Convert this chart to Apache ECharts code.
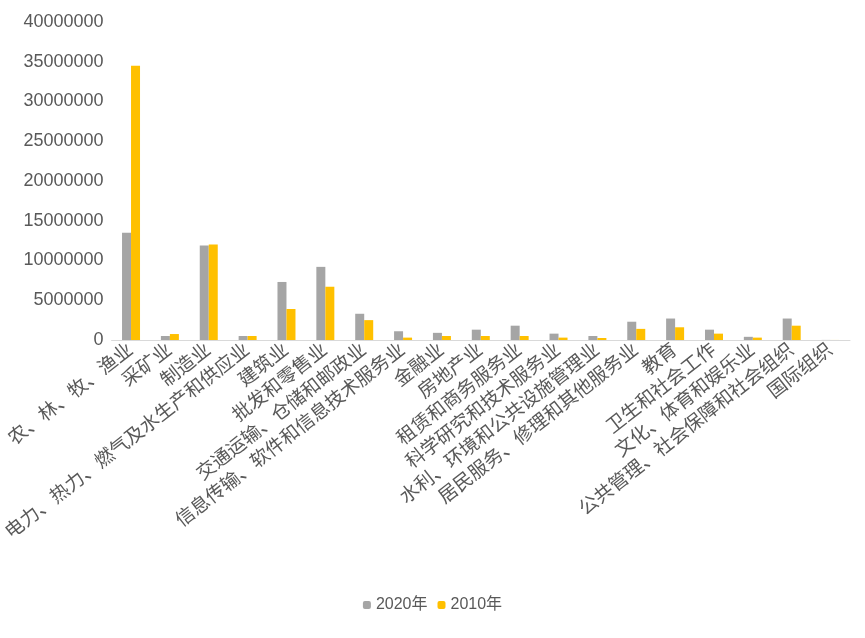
<!DOCTYPE html>
<html lang="zh">
<head>
<meta charset="UTF-8">
<title>行业人数</title>
<script src="https://cdn.jsdelivr.net/npm/echarts@6/dist/echarts.min.js"></script>
<style>body{margin:0}#main{width:865px;height:638px}</style>
</head>
<body>
<div id="main"></div>
<script>
    const categories = ['农、林、牧、渔业', '采矿业', '制造业', '电力、热力、燃气及水生产和供应业', '建筑业',
        '批发和零售业', '交通运输、仓储和邮政业', '信息传输、软件和信息技术服务业', '金融业', '房地产业',
        '租赁和商务服务业', '科学研究和技术服务业', '水利、环境和公共设施管理业', '居民服务、修理和其他服务业',
        '教育', '卫生和社会工作', '文化、体育和娱乐业', '公共管理、社会保障和社会组织', '国际组织']
    const v2020 = [13500000, 500000, 11900000, 500000, 7300000, 9200000, 3300000, 1100000, 900000, 1300000,
        1800000, 800000, 500000, 2300000, 2700000, 1300000, 400000, 2700000, 10000]
    const v2010 = [34500000, 750000, 12000000, 500000, 3900000, 6700000, 2500000, 300000, 500000, 500000,
        500000, 300000, 250000, 1400000, 1600000, 800000, 300000, 1800000, 5000]

    const font = 'Liberation Sans, Noto Sans CJK SC'
    echarts.init(document.getElementById('main')).setOption({
        legend: {
            bottom: 20, itemWidth: 8, itemHeight: 8, itemGap: 10,
            textStyle: { color: '#595959', fontSize: 16, fontFamily: font },
            data: ['2020年', '2010年']
        },
        grid: { left: 103, right: 15, top: 22, bottom: 298 },
        xAxis: {
            type: 'category', data: categories,
            axisTick: { show: false },
            axisLine: { lineStyle: { color: '#d9d9d9' } },
            axisLabel: { rotate: 38, interval: 0, color: '#595959', fontSize: 19, fontFamily: font, margin: 8 }
        },
        yAxis: {
            type: 'value', min: 0, max: 40000000, interval: 5000000,
            splitLine: { show: false },
            axisLabel: { color: '#595959', fontSize: 18, fontFamily: font, formatter: v => String(v) }
        },
        series: [
            { name: '2020年', type: 'bar', data: v2020, barWidth: 9, barGap: '0%',
              itemStyle: { color: '#A5A5A5' } },
            { name: '2010年', type: 'bar', data: v2010, barWidth: 9,
              itemStyle: { color: '#FFC000' } }
        ]
    })
</script>
</body>
</html>
